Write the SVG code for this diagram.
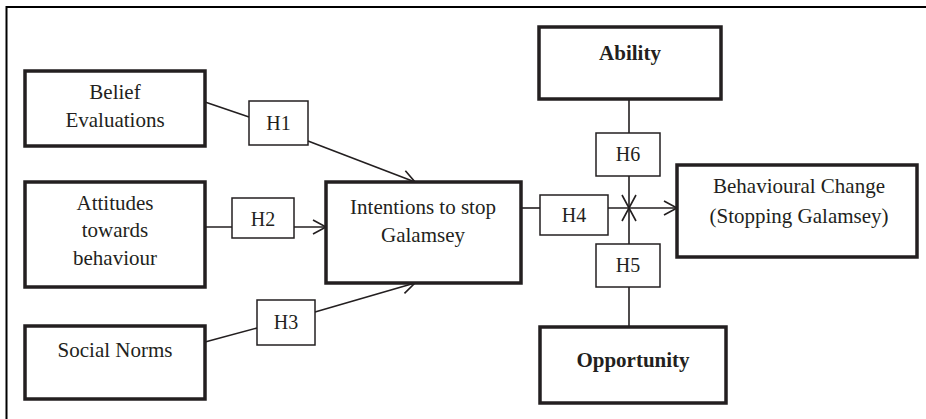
<svg xmlns="http://www.w3.org/2000/svg" width="926" height="419" viewBox="0 0 926 419">
<style>
.node{fill:#fff;stroke:#231f20;stroke-width:3.5}
.hbox{fill:#fff;stroke:#231f20;stroke-width:1.5}
.t{font-family:"Liberation Serif","Times New Roman",serif;font-size:21px;fill:#231f20;text-anchor:middle}
.h{font-family:"Liberation Serif","Times New Roman",serif;font-size:20px;fill:#231f20;text-anchor:middle}
.b{font-weight:bold}
.c{fill:none;stroke:#231f20;stroke-width:1.6}
</style>
<defs>
<marker id="arr" markerUnits="userSpaceOnUse" markerWidth="16" markerHeight="16" viewBox="0 0 16 16" refX="14" refY="8" orient="auto">
<path d="M1,1 L14,8 L1,15" fill="none" stroke="#231f20" stroke-width="1.6"/>
</marker>
</defs>
<rect width="926" height="419" fill="#fff"/>
<path d="M6.5,419 V7 H926" fill="none" stroke="#000" stroke-width="2"/>

<g id="connectors">
<line class="c" x1="205" y1="102" x2="249" y2="117"/>
<line class="c" x1="308" y1="141" x2="415" y2="182" marker-end="url(#arr)"/>
<line class="c" x1="205" y1="227" x2="326" y2="227" marker-end="url(#arr)"/>
<line class="c" x1="205" y1="342" x2="257" y2="328"/>
<line class="c" x1="315" y1="312" x2="415" y2="283" marker-end="url(#arr)"/>
<line class="c" x1="521" y1="208" x2="540" y2="208"/>
<line class="c" x1="608" y1="208" x2="677" y2="208" marker-end="url(#arr)"/>
<line class="c" x1="629" y1="99" x2="629" y2="133"/>
<line class="c" x1="629" y1="176" x2="629" y2="208" marker-end="url(#arr)"/>
<line class="c" x1="629" y1="327" x2="629" y2="287"/>
<line class="c" x1="629" y1="244" x2="629" y2="208" marker-end="url(#arr)"/>
</g>

<g id="belief">
<rect class="node" x="25" y="71" width="180" height="75"/>
<text class="t" x="115" y="99">Belief</text>
<text class="t" x="115" y="127">Evaluations</text>
</g>
<g id="attitudes">
<rect class="node" x="25" y="182" width="180" height="105"/>
<text class="t" x="115" y="210">Attitudes</text>
<text class="t" x="115" y="237">towards</text>
<text class="t" x="115" y="265">behaviour</text>
</g>
<g id="social">
<rect class="node" x="25" y="326" width="180" height="73"/>
<text class="t" x="115" y="357">Social Norms</text>
</g>
<g id="intentions">
<rect class="node" x="326" y="182" width="195" height="101"/>
<text class="t" x="423" y="214">Intentions to stop</text>
<text class="t" x="423" y="242">Galamsey</text>
</g>
<g id="ability">
<rect class="node" x="539" y="27" width="182" height="72"/>
<text class="t b" x="630" y="60">Ability</text>
</g>
<g id="opportunity">
<rect class="node" x="540" y="327" width="186" height="76"/>
<text class="t b" x="633" y="367">Opportunity</text>
</g>
<g id="behaviour">
<rect class="node" x="677" y="165" width="240" height="92"/>
<text class="t" x="799" y="193">Behavioural Change</text>
<text class="t" x="799" y="223">(Stopping Galamsey)</text>
</g>

<g id="h1">
<rect class="hbox" x="249" y="101" width="59" height="44"/>
<text class="h" x="278.5" y="130">H1</text>
</g>
<g id="h2">
<rect class="hbox" x="232" y="198" width="62" height="40"/>
<text class="h" x="263" y="226">H2</text>
</g>
<g id="h3">
<rect class="hbox" x="257" y="300" width="58" height="45"/>
<text class="h" x="286" y="329">H3</text>
</g>
<g id="h4">
<rect class="hbox" x="540" y="195" width="68" height="40"/>
<text class="h" x="574" y="222">H4</text>
</g>
<g id="h6">
<rect class="hbox" x="596" y="133" width="64" height="43"/>
<text class="h" x="628" y="161">H6</text>
</g>
<g id="h5">
<rect class="hbox" x="596" y="244" width="64" height="43"/>
<text class="h" x="628" y="272">H5</text>
</g>
</svg>
